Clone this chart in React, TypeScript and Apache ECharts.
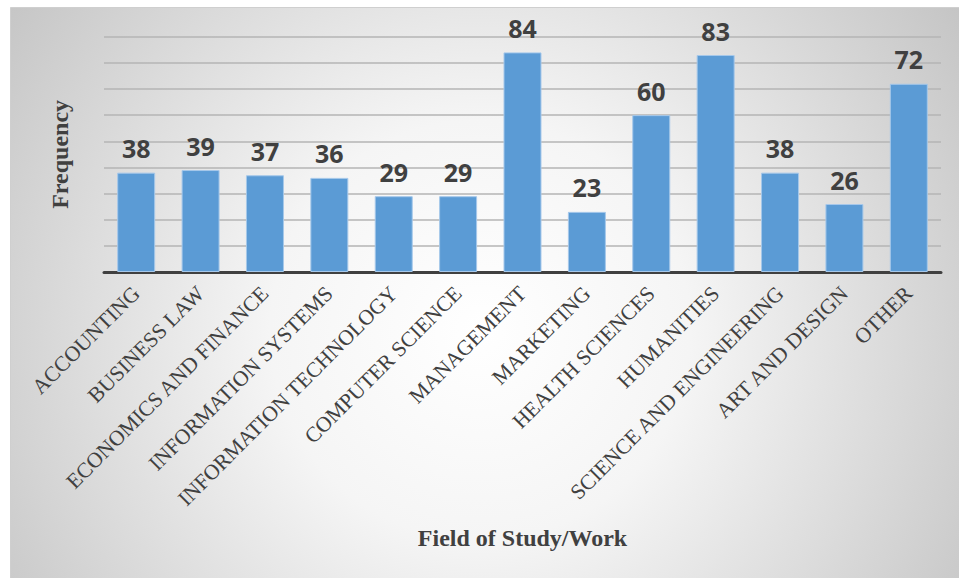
import React, { useEffect, useRef } from "react";
import * as echarts from "echarts";

const categories = [
  "ACCOUNTING",
  "BUSINESS LAW",
  "ECONOMICS AND FINANCE",
  "INFORMATION SYSTEMS",
  "INFORMATION TECHNOLOGY",
  "COMPUTER SCIENCE",
  "MANAGEMENT",
  "MARKETING",
  "HEALTH SCIENCES",
  "HUMANITIES",
  "SCIENCE AND ENGINEERING",
  "ART AND DESIGN",
  "OTHER",
];
const frequency = [38, 39, 37, 36, 29, 29, 84, 23, 60, 83, 38, 26, 72];
const yMin = 0;
const yMax = 90;
const yInterval = 10;
const xTitle = "Field of Study/Work";
const yTitle = "Frequency";

export default function App() {
  const ref = useRef<HTMLDivElement>(null);
  useEffect(() => {
    if (!ref.current) return;
    const chart = echarts.init(ref.current, null, { renderer: "svg" });
    chart.setOption({
      animation: false,
      backgroundColor: "#ffffff",
      graphic: [
        {
          type: "rect",
          z: -10,
          shape: { x: 10.5, y: 7.5, width: 960, height: 580 },
          style: {
            stroke: "#cfcfcf",
            lineWidth: 1,
            fill: new echarts.graphic.RadialGradient(480, 330, 600, [
              { offset: 0, color: "#ffffff" },
              { offset: 0.35, color: "#f5f5f5" },
              { offset: 1, color: "#c2c2c2" },
            ], true),
          },
        },
      ],
      grid: { left: 104, right: 18, top: 36.7, bottom: 306, containLabel: false },
      xAxis: {
        type: "category",
        data: categories,
        name: xTitle,
        nameLocation: "middle",
        nameGap: 254,
        nameTextStyle: {
          fontFamily: "Liberation Serif",
          fontWeight: "bold",
          fontSize: 24,
          color: "#404040",
        },
        axisLine: { show: true, lineStyle: { color: "#404040", width: 3 } },
        axisTick: { show: false },
        axisLabel: {
          rotate: 45,
          interval: 0,
          margin: 18,
          fontFamily: "Liberation Serif",
          fontSize: 21.5,
          color: "#404040",
        },
      },
      yAxis: {
        type: "value",
        min: yMin,
        max: yMax,
        interval: yInterval,
        name: yTitle,
        nameLocation: "middle",
        nameGap: 32,
        nameTextStyle: {
          fontFamily: "Liberation Serif",
          fontWeight: "bold",
          fontSize: 24,
          color: "#404040",
        },
        axisLine: { show: false },
        axisTick: { show: false },
        axisLabel: { show: false },
        splitLine: { show: true, lineStyle: { color: "#b4b4b4", width: 1.5 } },
      },
      series: [
        {
          type: "bar",
          data: frequency,
          barCategoryGap: "41%",
          itemStyle: { color: "#5b9bd5", borderColor: "#a6c8ea", borderWidth: 1 },
          label: {
            show: true,
            position: "top",
            distance: 12,
            fontFamily: "Open Sans",
            fontWeight: "bold",
            fontSize: 25,
            color: "#404040",
          },
        },
      ],
    });
    return () => chart.dispose();
  }, []);
  return (
    <div
      ref={ref}
      style={{ position: "absolute", left: 0, top: 0, width: 959, height: 578 }}
    />
  );
}
